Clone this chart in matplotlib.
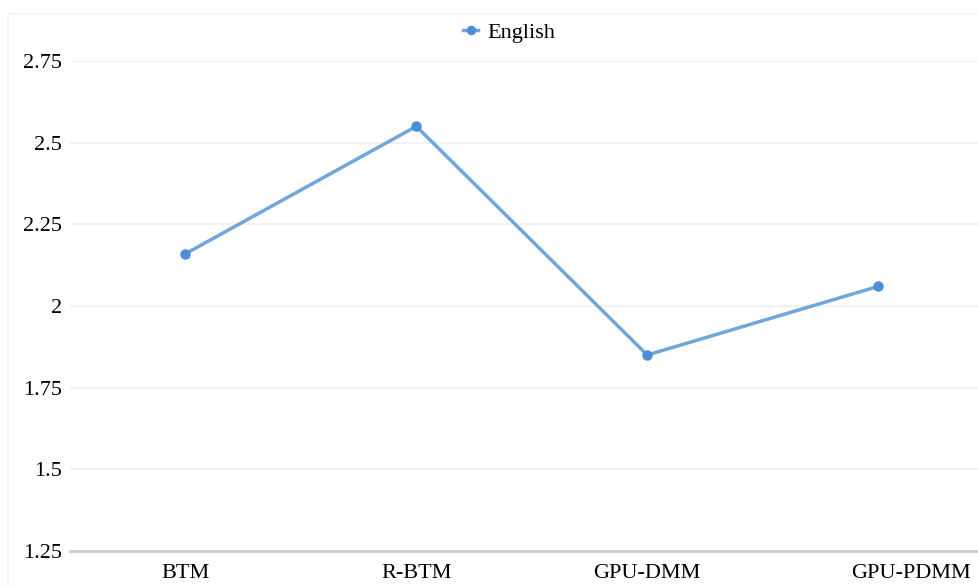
import matplotlib
matplotlib.use("Agg")
import matplotlib.pyplot as plt
import matplotlib.transforms as mtransforms
from matplotlib.patches import Rectangle

categories = ["BTM", "R-BTM", "GPU-DMM", "GPU-PDMM"]
english = [2.16, 2.55, 1.85, 2.06]
y_ticks = [1.25, 1.5, 1.75, 2, 2.25, 2.5, 2.75]
y_tick_labels = ["1.25", "1.5", "1.75", "2", "2.25", "2.5", "2.75"]

plt.rcParams["font.family"] = ["Liberation Serif", "DejaVu Serif"]

W, H = 979, 587
fig = plt.figure(figsize=(W / 100, H / 100), dpi=100)
fig.patch.set_facecolor("white")

# faint outer frame
fig.add_artist(Rectangle((8 / W, -0.2), 1.2, 1.2 - 14 / H, transform=fig.transFigure,
                         fill=False, edgecolor="#f2f2f2", linewidth=1.2))

left, right = 70, 979
top, bottom = 61, 551
ax = fig.add_axes([left / W, 1 - bottom / H, (right - left) / W, (bottom - top) / H])

x = list(range(len(categories)))
ax.plot(x, english, color="#6fa6dc", linewidth=2.5, marker="o", markersize=6.5,
        markerfacecolor="#4a8fd8", markeredgecolor="#4a8fd8", label="English")

ax.set_xlim(-0.5, (right - 185) / 231)
ax.set_ylim(1.25, 2.75)
ax.set_yticks(y_ticks)
ax.set_yticklabels(y_tick_labels)
ax.set_xticks(x)
ax.set_xticklabels(categories)

for s in ["top", "right", "left"]:
    ax.spines[s].set_visible(False)
ax.spines["bottom"].set_color("#cccccc")
ax.spines["bottom"].set_linewidth(2)

ax.grid(axis="y", color="#f2f2f2", linewidth=1.5)
ax.set_axisbelow(True)
ax.tick_params(axis="both", length=0, labelsize=16, colors="black")
ax.tick_params(axis="y", pad=6)
ax.tick_params(axis="x", pad=9)

# last category label is pushed inside the canvas
lbl = ax.get_xticklabels()[-1]
lbl.set_transform(lbl.get_transform() + mtransforms.ScaledTranslation(33 / 100, 0, fig.dpi_scale_trans))

leg = fig.legend(loc="center", bbox_to_anchor=(509 / W, 1 - 33 / H), frameon=False,
                 fontsize=16, handlelength=0.7, handletextpad=0.4, markerscale=0.9)

fig.savefig("out.png", dpi=100)
